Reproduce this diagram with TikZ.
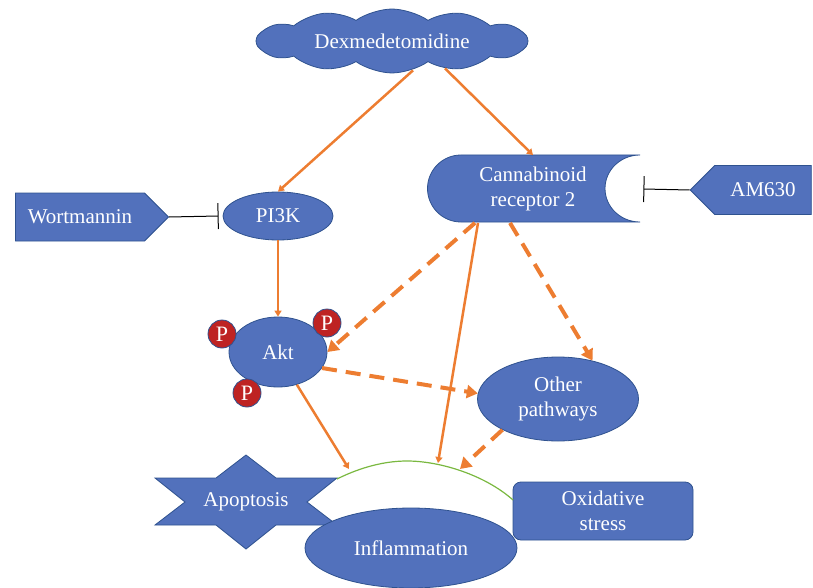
\documentclass[tikz,border=0pt]{standalone}
\usepackage{fontspec}
\setmainfont{Liberation Serif}
\usetikzlibrary{shapes.symbols,shapes.geometric,arrows.meta,positioning}

\definecolor{boxblue}{RGB}{82,113,188}
\definecolor{edgeblue}{RGB}{47,82,143}
\definecolor{linkorange}{RGB}{237,125,49}
\definecolor{pred}{RGB}{190,35,35}
\definecolor{arcgreen}{RGB}{122,184,64}

\tikzset{
  blob/.style={fill=boxblue, draw=edgeblue, line width=0.8pt, text=white,
    font=\fontsize{21}{25}\selectfont, align=center, inner sep=0pt},
  oval/.style={blob, ellipse},
  flag/.style={blob, signal, signal pointer angle=90},
  phos/.style={circle, fill=pred, draw=edgeblue, line width=0.8pt, text=white,
    minimum size=28pt, inner sep=0pt, font=\fontsize{22}{22}\selectfont},
  act/.style={draw=linkorange, line width=2.5pt, -{Triangle[length=6pt,width=7pt]}},
  actdash/.style={draw=linkorange, line width=4pt, dash pattern=on 15pt off 9pt,
    -{Triangle[length=11pt,width=13pt]}},
  blockline/.style={draw=black, line width=1pt, -{Bar[width=26pt]}}
}

\begin{document}
\begin{tikzpicture}[x=1pt, y=-1pt]
\useasboundingbox (0,0) rectangle (813,588);

% receptor body and the star are drawn first, text goes on top
\filldraw[fill=boxblue, draw=edgeblue, line width=0.8pt]
  (640,155) -- (461,155) arc[start angle=90, end angle=270, radius=33.5pt]
  -- (640,222) arc[start angle=270, end angle=90, x radius=35pt, y radius=33.5pt];
\filldraw[fill=boxblue, draw=edgeblue, line width=0.8pt]
  (155,478) -- (216,478) -- (246,455) -- (276,478) -- (337,478) -- (307,502)
  -- (337,525) -- (276,525) -- (246,549) -- (216,525) -- (155,525) -- (185,502) -- cycle;

\node[blob, cloud, cloud puffs=12, cloud puff arc=70, aspect=4.6,
  minimum width=272pt, minimum height=54pt] (dex) at (392,41) {Dexmedetomidine};
\node[blob, fill=none, draw=none, minimum width=214pt, minimum height=67pt] (cb2) at (533,189) {Cannabinoid\\receptor 2};
\node[flag, signal to=west, minimum width=121pt, minimum height=49pt] (am) at (763,190) {AM630};
\node[flag, signal to=east, minimum width=153pt, minimum height=48pt] (wort) at (80,217) {Wortmannin};
\node[oval, minimum width=110pt, minimum height=48pt] (pi3k) at (278,216) {PI3K};
\node[oval, minimum width=98pt, minimum height=70pt] (akt) at (278,352) {Akt};
\node[phos] (p1) at (222,334) {P};
\node[phos] (p2) at (327,323) {P};
\node[phos] (p3) at (247,393) {P};
\node[oval, minimum width=161pt, minimum height=84pt] (oth) at (558,399) {Other\\pathways};
\node[blob, fill=none, draw=none] (apop) at (246,502) {Apoptosis};
\node[oval, minimum width=212pt, minimum height=80pt] (infl) at (411,548) {Inflammation};
\node[blob, rectangle, rounded corners=8pt, minimum width=180pt, minimum height=58pt] (oxi) at (603,511) {Oxidative\\stress};

\draw[arcgreen, line width=1.2pt] (337,479) .. controls (355,470) and (380,461) .. (407,461)
  .. controls (440,461) and (485,475) .. (513,500);
\coordinate (arcA) at (349,469);
\coordinate (arcB) at (438,463);
\coordinate (arcC) at (460,469);

\draw[act] ([xshift=21pt,yshift=3pt]dex.south) -- (pi3k.north);
\draw[act] ([xshift=53pt,yshift=5pt]dex.south) -- (cb2.north);
\draw[act] (pi3k.south) -- (akt.north);
\draw[act] (akt.-60) -- (arcA);
\draw[act] ([xshift=-55pt]cb2.south) -- (arcB);
\draw[actdash] ([xshift=-58pt]cb2.south) -- (akt.east);
\draw[actdash] ([xshift=-23pt]cb2.south) -- (oth.48);
\draw[actdash] (akt.-20) -- (oth.176);
\draw[actdash] (oth.-151) -- (arcC);

\draw[blockline] (wort.east) -- ([xshift=-4pt]pi3k.west);
\draw[blockline] (am.west) -- ([xshift=3pt]cb2.east);
\end{tikzpicture}
\end{document}
